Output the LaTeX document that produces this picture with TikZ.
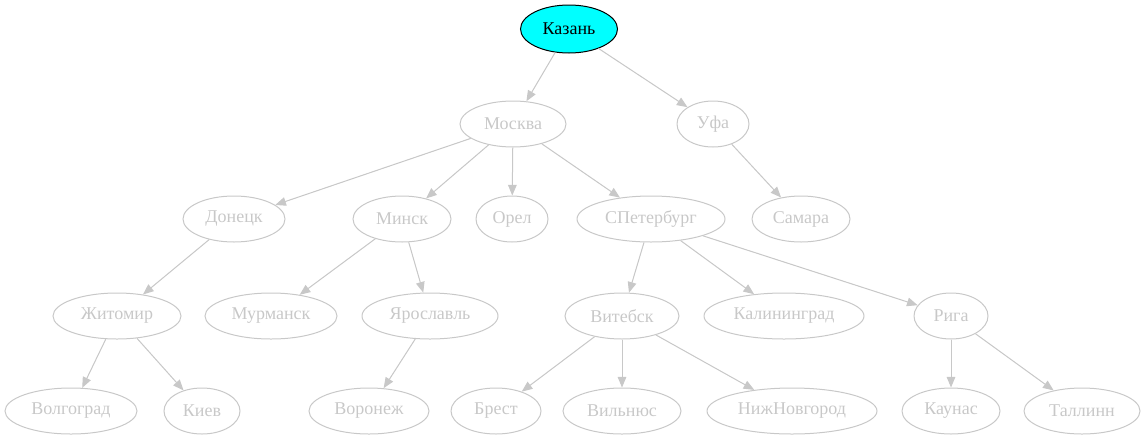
\documentclass[tikz,border=0pt]{standalone}
\usepackage{fontspec}
\setmainfont{Liberation Serif}
\usetikzlibrary{arrows.meta,shapes.geometric}
\definecolor{cityline}{RGB}{200,200,200}
\definecolor{rootfill}{RGB}{0,255,255}
\begin{document}
\begin{tikzpicture}[x=0.75pt,y=-0.75pt,
		city/.style={ellipse,draw=cityline,text=cityline,line width=0.75pt,inner sep=0pt,minimum height=34.5pt,font=\fontsize{13.5}{16}\selectfont},
		root/.style={city,draw=black,fill=rootfill,text=black,minimum height=36pt},
		marrow/.style={-{Triangle[length=8pt,width=6.5pt]},draw=cityline,fill=cityline,line width=0.75pt}]
		\useasboundingbox (0,0) rectangle (1144,443);
		% level 0 and 1
		\node [root,minimum width=72.75pt] (kazan) at (569,29) {Казань};
		\node [city,minimum width=79.5pt] (moskva) at (513,124) {Москва};
		\node [city,minimum width=54pt] (ufa) at (713,124) {Уфа};
		% level 2
		\node [city,minimum width=76.5pt] (donetsk) at (234,219) {Донецк};
		\node [city,minimum width=73.5pt] (minsk) at (402,219) {Минск};
		\node [city,minimum width=54pt] (orel) at (512,219) {Орел};
		\node [city,minimum width=111pt] (spb) at (651,219) {СПетербург};
		\node [city,minimum width=73.5pt] (samara) at (801,219) {Самара};
		% level 3
		\node [city,minimum width=96pt] (zhitomir) at (117,316) {Житомир};
		\node [city,minimum width=99pt] (murmansk) at (271,316) {Мурманск};
		\node [city,minimum width=102pt] (yaroslavl) at (430,316) {Ярославль};
		\node [city,minimum width=85.5pt] (vitebsk) at (622,316) {Витебск};
		\node [city,minimum width=120pt] (kaliningrad) at (784,316) {Калининград};
		\node [city,minimum width=55.5pt] (riga) at (951,316) {Рига};
		% level 4
		\node [city,minimum width=99pt] (volgograd) at (71,411) {Волгоград};
		\node [city,minimum width=57pt] (kiev) at (202,411) {Киев};
		\node [city,minimum width=90pt] (voronezh) at (369,411) {Воронеж};
		\node [city,minimum width=67.5pt] (brest) at (496,411) {Брест};
		\node [city,minimum width=88.5pt] (vilnius) at (622,411) {Вильнюс};
		\node [city,minimum width=127.5pt] (nizhnovgorod) at (792,411) {НижНовгород};
		\node [city,minimum width=73.5pt] (kaunas) at (951,411) {Каунас};
		\node [city,minimum width=87pt] (tallinn) at (1082,411) {Таллинн};

		% edges
		\draw [marrow] (kazan) -- (moskva);
		\draw [marrow] (kazan) -- (ufa);
		\draw [marrow] (moskva) -- (donetsk);
		\draw [marrow] (moskva) -- (minsk);
		\draw [marrow] (moskva) -- (orel);
		\draw [marrow] (moskva) -- (spb);
		\draw [marrow] (ufa) -- (samara);
		\draw [marrow] (donetsk) -- (zhitomir);
		\draw [marrow] (minsk) -- (murmansk);
		\draw [marrow] (minsk) -- (yaroslavl);
		\draw [marrow] (spb) -- (vitebsk);
		\draw [marrow] (spb) -- (kaliningrad);
		\draw [marrow] (spb) -- (riga);
		\draw [marrow] (zhitomir) -- (volgograd);
		\draw [marrow] (zhitomir) -- (kiev);
		\draw [marrow] (yaroslavl) -- (voronezh);
		\draw [marrow] (vitebsk) -- (brest);
		\draw [marrow] (vitebsk) -- (vilnius);
		\draw [marrow] (vitebsk) -- (nizhnovgorod);
		\draw [marrow] (riga) -- (kaunas);
		\draw [marrow] (riga) -- (tallinn);
\end{tikzpicture}
\end{document}
